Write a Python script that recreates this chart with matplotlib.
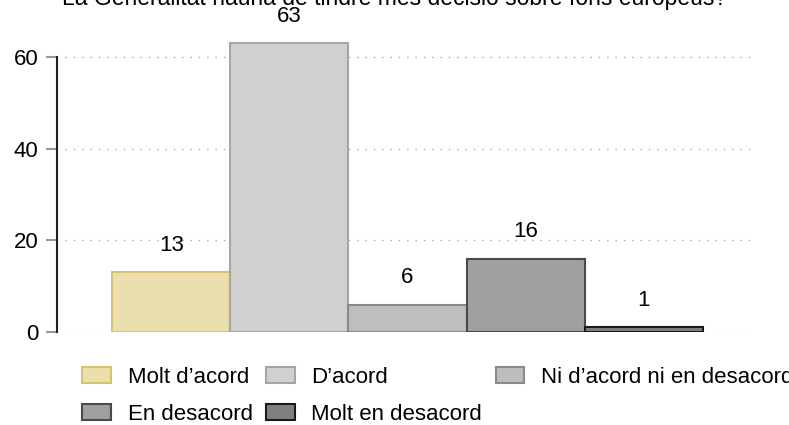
import matplotlib.pyplot as plt
from matplotlib.patches import Patch

plt.rcParams['font.family'] = ['Liberation Sans', 'DejaVu Sans']

title = "La Generalitat hauria de tindre més decisió sobre fons europeus?"
categories = ["Molt d\u2019acord", "D\u2019acord", "Ni d\u2019acord ni en desacord",
              "En desacord", "Molt en desacord"]
values = [13, 63, 6, 16, 1]
fills = ["#ebe0ad", "#d0d0d0", "#bebebe", "#a0a0a0", "#808080"]
edges = ["#d9c36a", "#a6a6a6", "#8a8a8a", "#4a4a4a", "#1a1a1a"]

fs = 16
fig = plt.figure(figsize=(7.89, 4.25), dpi=100)
ax = fig.add_axes([65 / 789, 1 - 332 / 425, (757 - 65) / 789, (332 - 10) / 425])

xs = list(range(len(values)))
ax.bar(xs, values, width=1.0, color=fills, edgecolor=edges,
       linewidth=1.5, zorder=2)
for x, v in zip(xs, values):
    ax.text(x, v + 5.9, str(v), ha="center", va="center", fontsize=fs)

ax.set_xlim(-0.9, 4.96)
ax.set_ylim(0, 70.3)
ax.set_yticks([0, 20, 40, 60])
ax.tick_params(axis="y", labelsize=fs, length=8, width=1.5, color="#999999",
               pad=5)
ax.set_xticks([])
for s in ["top", "right", "bottom"]:
    ax.spines[s].set_visible(False)
ax.spines["left"].set_bounds(0, 60)
ax.spines["left"].set_position(("outward", 6))
ax.spines["left"].set_linewidth(1.5)
ax.spines["left"].set_color("#222222")
ax.yaxis.grid(True, linestyle=(0, (1, 5)), color="#aaaaaa", linewidth=1.0,
              zorder=0)
ax.set_axisbelow(True)

fig.text(0.5, 1 - 5 / 425, title, ha="center", va="baseline", fontsize=16.5)

handles = [Patch(facecolor=f, edgecolor=e, linewidth=1.5, label=c)
           for f, e, c in zip(fills, edges, categories)]
order = [0, 3, 1, 4, 2]
fig.legend([handles[i] for i in order], [categories[i] for i in order],
           ncol=3, loc="upper left", bbox_to_anchor=(82 / 789, 1 - 367 / 425),
           frameon=False, fontsize=fs, handlelength=1.3, handleheight=0.75,
           handletextpad=0.75, columnspacing=0.6, labelspacing=0.72,
           borderpad=0, borderaxespad=0)

fig.savefig("out.png", dpi=100)
